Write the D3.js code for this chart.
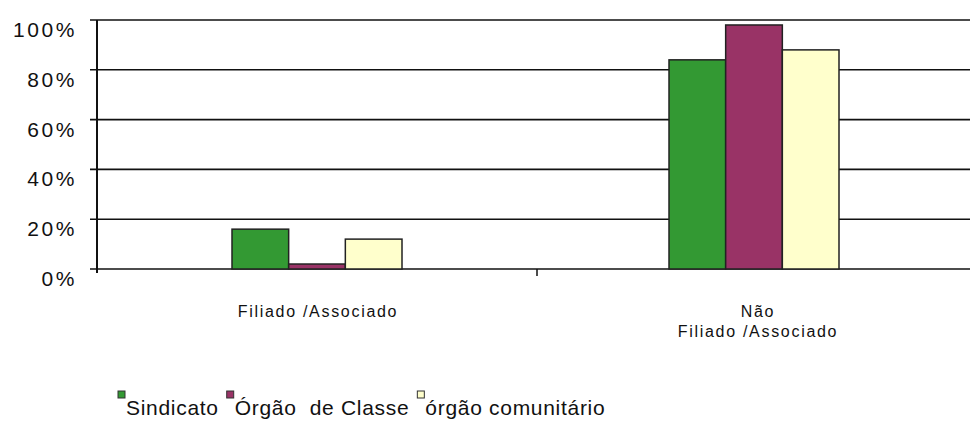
<!DOCTYPE html>
<html><head><meta charset="utf-8">
<script src="https://cdn.jsdelivr.net/npm/d3@7"></script>
<style>
html,body{margin:0;padding:0;background:#fff;}
svg{display:block;}
text{font-family:"Liberation Sans",Arial,sans-serif;fill:#111;}
</style></head>
<body>
<svg id="chart" width="970" height="423"></svg>
<script>
const categories = [["Filiado /Associado"], ["Não", "Filiado /Associado"]];
const categoryKeys = ["Filiado", "NaoFiliado"];
const seriesNames = ["Sindicato", "Órgão  de Classe", "órgão comunitário"];
const sindicato = [16, 84];
const orgaoClasse = [2, 98];
const orgaoComunitario = [12, 88];
const yTicks = [0, 20, 40, 60, 80, 100];
const yTickLabels = ["0%", "20%", "40%", "60%", "80%", "100%"];
const colors = ["#339933", "#993366", "#ffffcc"];

const seriesValues = [sindicato, orgaoClasse, orgaoComunitario];

const svg = d3.select("#chart");
const mLeft = 97, mRight = 977, mTop = 20, mBottom = 269;

const x = d3.scaleBand().domain(categoryKeys).range([mLeft, mRight]).paddingInner(0).paddingOuter(0);
const y = d3.scaleLinear().domain([0, 100]).range([mBottom, mTop]);
const groupW = 170;
const xs = d3.scaleBand().domain(d3.range(seriesNames.length)).range([-groupW/2, groupW/2]);

// gridlines
svg.append("g").selectAll("line").data(yTicks).join("line")
  .attr("x1", mLeft - 7).attr("x2", 970)
  .attr("y1", d => y(d)).attr("y2", d => y(d))
  .attr("stroke", "#111").attr("stroke-width", 1.6);

// y labels
svg.append("g").selectAll("text").data(yTicks).join("text")
  .attr("x", 77).attr("y", d => y(d) + 17)
  .attr("text-anchor", "end")
  .attr("font-size", 21).attr("letter-spacing", 2.6)
  .text((d, i) => yTickLabels[i]);

// y axis line
svg.append("line").attr("x1", mLeft).attr("x2", mLeft)
  .attr("y1", mTop).attr("y2", mBottom + 4)
  .attr("stroke", "#111").attr("stroke-width", 2);

// category tick marks
svg.append("g").selectAll("line").data(categoryKeys.slice(1)).join("line")
  .attr("x1", d => x(d)).attr("x2", d => x(d))
  .attr("y1", mBottom).attr("y2", mBottom + 7)
  .attr("stroke", "#111").attr("stroke-width", 1.5);

// bars
categoryKeys.forEach((c, ci) => {
  const cx = x(c) + x.bandwidth() / 2 - (ci === 1 ? 3 : 0);
  seriesValues.forEach((vals, si) => {
    svg.append("rect")
      .attr("x", cx + xs(si))
      .attr("y", y(vals[ci]))
      .attr("width", xs.bandwidth())
      .attr("height", y(0) - y(vals[ci]))
      .attr("fill", colors[si])
      .attr("stroke", "#222").attr("stroke-width", 1.5);
  });
});

// category labels
categoryKeys.forEach((c, ci) => {
  const cx = x(c) + x.bandwidth() / 2 + 1;
  const t = svg.append("text").attr("text-anchor", "middle")
    .attr("font-size", 16).attr("letter-spacing", 1.7);
  categories[ci].forEach((line, li) => {
    t.append("tspan").attr("x", cx).attr("y", 317 + li * 20).text(line);
  });
});

// legend
let lx = 118;
const legendY = 415;
seriesNames.forEach((name, i) => {
  svg.append("rect").attr("x", lx).attr("y", 391).attr("width", 7).attr("height", 7)
    .attr("fill", colors[i]).attr("stroke", "#333").attr("stroke-width", 1);
  const t = svg.append("text").attr("x", lx + 8).attr("y", legendY)
    .attr("font-size", 21).attr("letter-spacing", 0.7)
    .style("white-space", "pre").text(name);
  const w = t.node().getComputedTextLength();
  lx += 8 + w + 8;
});
</script>
</body></html>
